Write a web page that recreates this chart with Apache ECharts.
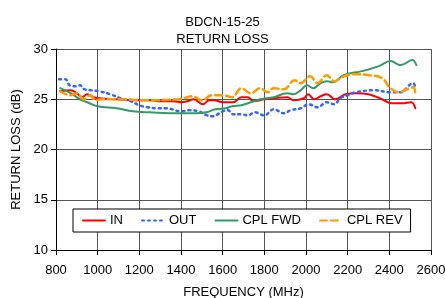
<!DOCTYPE html>
<html>
<head>
<meta charset="utf-8">
<script src="https://cdn.jsdelivr.net/npm/echarts@6/dist/echarts.min.js"></script>
<style>
  html, body { margin: 0; padding: 0; background: #fff; }
  #chart { width: 445px; height: 298px; }
</style>
</head>
<body>
<div id="chart"></div>
<script>
// frequencies (MHz) and return loss (dB)
var inFreq  = [820, 870, 900, 925, 950, 980, 1010, 1090, 1190, 1250, 1300, 1365, 1400, 1430, 1460, 1505, 1535, 1560, 1600, 1650, 1690, 1720, 1750, 1800, 1845, 1910, 1940, 1990, 2010, 2040, 2070, 2100, 2140, 2190, 2240, 2300, 2365, 2410, 2460, 2505, 2525]
var inVal   = [25.8, 25.9, 25.6, 25.2, 25.5, 25.2, 25.1, 25.0, 24.9, 24.9, 24.8, 24.8, 24.7, 24.8, 25.0, 24.5, 24.9, 24.9, 24.7, 24.7, 25.2, 25.2, 24.8, 25.0, 25.1, 25.2, 24.9, 25.1, 25.5, 25.0, 25.3, 25.5, 25.0, 25.5, 25.6, 25.5, 25.0, 24.6, 24.6, 24.7, 24.1]

var outFreq = [815, 845, 865, 895, 915, 935, 965, 1005, 1060, 1110, 1160, 1200, 1240, 1290, 1330, 1400, 1440, 1485, 1525, 1550, 1575, 1600, 1625, 1650, 1690, 1720, 1755, 1800, 1845, 1895, 1925, 1975, 2013, 2055, 2100, 2135, 2165, 2200, 2240, 2330, 2400, 2460, 2490, 2515, 2525]
var outVal  = [27.0, 27.0, 26.4, 26.3, 26.4, 26.0, 25.9, 25.8, 25.5, 25.1, 24.8, 24.4, 24.2, 24.1, 24.1, 23.8, 23.9, 23.8, 23.4, 23.3, 23.5, 23.8, 23.9, 23.5, 23.5, 23.4, 23.7, 23.4, 24.0, 23.6, 23.9, 24.1, 24.5, 24.2, 24.7, 24.5, 25.1, 25.4, 25.7, 25.9, 25.7, 25.7, 26.3, 26.6, 26.1]

var fwdFreq = [820, 870, 915, 950, 1000, 1090, 1170, 1250, 1390, 1470, 1520, 1565, 1615, 1645, 1690, 1735, 1780, 1845, 1910, 1940, 1975, 2005, 2035, 2070, 2100, 2130, 2180, 2270, 2350, 2405, 2455, 2510, 2530]
var fwdVal  = [26.1, 25.6, 25.0, 24.7, 24.3, 24.1, 23.8, 23.7, 23.6, 23.6, 23.7, 24.0, 24.1, 24.3, 24.4, 24.7, 25.0, 25.2, 25.6, 25.5, 25.9, 26.4, 26.1, 26.6, 26.8, 26.7, 27.4, 27.8, 28.3, 28.8, 28.4, 28.9, 28.4]

var revFreq = [820, 870, 900, 933, 965, 990, 1020, 1100, 1230, 1390, 1455, 1500, 1550, 1600, 1645, 1690, 1735, 1780, 1815, 1845, 1895, 1945, 1975, 2020, 2055, 2100, 2135, 2185, 2240, 2300, 2365, 2405, 2445, 2485, 2515, 2525]
var revVal  = [25.8, 25.4, 25.6, 25.0, 25.4, 24.9, 25.0, 25.0, 24.9, 25.0, 25.3, 24.9, 25.4, 25.4, 25.2, 26.1, 25.6, 26.1, 25.7, 26.1, 26.0, 26.9, 26.6, 27.3, 26.6, 27.4, 26.8, 27.3, 27.5, 27.4, 27.1, 26.1, 25.7, 26.0, 26.2, 25.4]

var seriesNames = ['IN', 'OUT', 'CPL FWD', 'CPL REV']

function pairs(f, v) {
    return f.map(function (x, i) { return [x, v[i]] })
}

var font = 'Liberation Sans, Arial, sans-serif'
var chart = echarts.init(document.getElementById('chart'))

function lineSeries(name, f, v, color, type, width) {
    return {
        name: name,
        type: 'line',
        data: pairs(f, v),
        smooth: 0.4,
        showSymbol: false,
        symbol: 'none',
        itemStyle: { color: color },
        lineStyle: { color: color, width: width, type: type, cap: 'round' }
    }
}

var option = {
    animation: false,
    title: {
        text: 'BDCN-15-25\nRETURN LOSS',
        left: 'center',
        top: 9,
        textStyle: { fontFamily: font, fontSize: 13, fontWeight: 'normal', color: '#000', lineHeight: 17 }
    },
    legend: {
        data: seriesNames,
        left: 73,
        top: 209,
        padding: [5, 8, 5, 9],
        backgroundColor: '#fff',
        borderColor: '#000',
        borderWidth: 1,
        borderRadius: 0,
        itemWidth: 22,
        itemHeight: 12,
        itemGap: 18,
        itemStyle: { opacity: 0 },
        textStyle: { fontFamily: font, fontSize: 13, color: '#000' }
    },
    grid: { left: 56, right: 14, top: 49, bottom: 48, outerBoundsMode: 'none', containLabel: false },
    xAxis: {
        type: 'value',
        min: 800,
        max: 2600,
        interval: 200,
        name: 'FREQUENCY (MHz)',
        nameLocation: 'middle',
        nameGap: 36,
        nameTextStyle: { fontFamily: font, fontSize: 13, color: '#000' },
        axisLine: { lineStyle: { color: '#000' } },
        axisTick: { show: true, length: 5, lineStyle: { color: '#000' } },
        axisLabel: { fontFamily: font, fontSize: 13, color: '#000', margin: 14, formatter: function (v) { return String(v) } },
        splitLine: { show: true, lineStyle: { color: '#555', width: 1 } }
    },
    yAxis: {
        type: 'value',
        min: 10,
        max: 30,
        interval: 5,
        name: 'RETURN LOSS (dB)',
        nameLocation: 'middle',
        nameGap: 32,
        nameTextStyle: { fontFamily: font, fontSize: 13, color: '#000' },
        axisLine: { show: true, lineStyle: { color: '#000' } },
        axisTick: { show: true, length: 5, lineStyle: { color: '#000' } },
        axisLabel: { fontFamily: font, fontSize: 13, color: '#000', margin: 8 },
        splitLine: { show: true, lineStyle: { color: '#555', width: 1 } }
    },
    series: [
        lineSeries('IN', inFreq, inVal, '#ff0000', 'solid', 2),
        lineSeries('OUT', outFreq, outVal, '#3366ff', [2, 4], 2.5),
        lineSeries('CPL FWD', fwdFreq, fwdVal, '#339966', 'solid', 2),
        lineSeries('CPL REV', revFreq, revVal, '#ff9900', [7, 4], 2.5)
    ]
}
chart.setOption(option)
</script>
</body>
</html>
